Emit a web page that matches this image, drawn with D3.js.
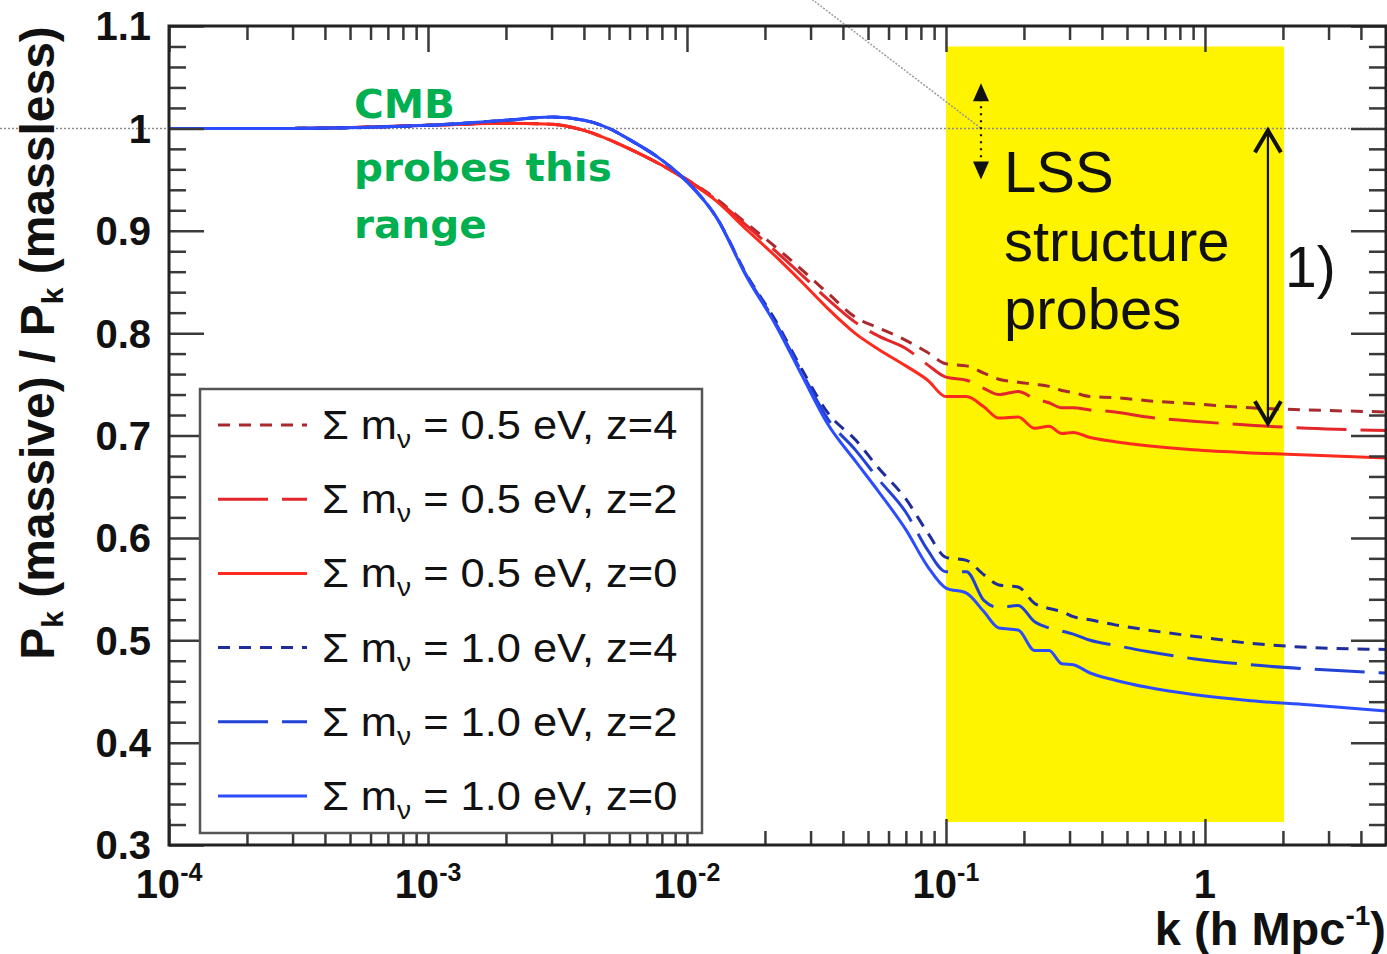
<!DOCTYPE html>
<html><head><meta charset="utf-8">
<script src="https://cdn.jsdelivr.net/npm/d3@7"></script>
<style>html,body{margin:0;padding:0;background:#fff;} svg{display:block}</style>
</head><body><svg id="c" width="1387" height="954"></svg>
<script>
// ---------- data ----------
const kValues = [1e-4, 3e-4, 1e-3, 2e-3, 3e-3, 4e-3, 5e-3, 6e-3, 8e-3, 0.01, 0.013, 0.017, 0.022, 0.028, 0.035, 0.045, 0.055, 0.07, 0.085, 0.1, 0.12, 0.14, 0.16, 0.19, 0.22, 0.25, 0.28, 0.31, 0.36, 0.45, 0.6, 0.9, 1.5, 2.5, 5];

const m05z4 = [1.000, 1.000, 1.003, 1.005, 1.004, 0.998, 0.989, 0.980, 0.964, 0.950, 0.931, 0.907, 0.884, 0.861, 0.839, 0.815, 0.805, 0.793, 0.781, 0.770, 0.768, 0.761, 0.755, 0.752, 0.750, 0.748, 0.744, 0.742, 0.738, 0.737, 0.734, 0.731, 0.727, 0.725, 0.723];
const m05z2 = [1.000, 1.000, 1.003, 1.005, 1.004, 0.998, 0.989, 0.980, 0.964, 0.950, 0.930, 0.905, 0.880, 0.856, 0.833, 0.810, 0.797, 0.785, 0.769, 0.757, 0.754, 0.746, 0.740, 0.743, 0.736, 0.732, 0.727, 0.727, 0.725, 0.723, 0.718, 0.714, 0.710, 0.707, 0.705];
const m05z0 = [1.000, 1.000, 1.003, 1.005, 1.004, 0.998, 0.989, 0.980, 0.964, 0.949, 0.929, 0.901, 0.875, 0.849, 0.824, 0.799, 0.784, 0.768, 0.754, 0.738, 0.738, 0.728, 0.717, 0.718, 0.707, 0.709, 0.702, 0.703, 0.698, 0.694, 0.690, 0.686, 0.683, 0.681, 0.678];
const m10z4 = [1.000, 1.000, 1.003, 1.008, 1.011, 1.008, 1.000, 0.989, 0.969, 0.948, 0.913, 0.857, 0.812, 0.763, 0.722, 0.695, 0.668, 0.638, 0.605, 0.581, 0.578, 0.564, 0.554, 0.552, 0.536, 0.531, 0.528, 0.523, 0.520, 0.515, 0.510, 0.504, 0.497, 0.493, 0.491];
const m10z2 = [1.000, 1.000, 1.003, 1.008, 1.011, 1.008, 1.000, 0.989, 0.969, 0.948, 0.913, 0.856, 0.810, 0.760, 0.716, 0.685, 0.657, 0.625, 0.588, 0.567, 0.567, 0.539, 0.532, 0.534, 0.518, 0.512, 0.509, 0.506, 0.500, 0.495, 0.489, 0.482, 0.476, 0.472, 0.468];
const m10z0 = [1.000, 1.000, 1.003, 1.008, 1.011, 1.008, 1.000, 0.989, 0.969, 0.948, 0.913, 0.855, 0.808, 0.757, 0.711, 0.674, 0.645, 0.608, 0.572, 0.551, 0.546, 0.528, 0.512, 0.510, 0.490, 0.490, 0.477, 0.476, 0.468, 0.461, 0.454, 0.447, 0.441, 0.437, 0.431];

const seriesMass = ["0.5", "0.5", "0.5", "1.0", "1.0", "1.0"];
const seriesZ = ["4", "2", "0", "4", "2", "0"];
const seriesValues = [m05z4, m05z2, m05z0, m10z4, m10z2, m10z0];

const xMajorTicks = [1e-4, 1e-3, 1e-2, 1e-1, 1];
const xTickExp = ["-4", "-3", "-2", "-1", ""];
const yMajorTicks = [0.3, 0.4, 0.5, 0.6, 0.7, 0.8, 0.9, 1.0, 1.1];
const yTickLabels = ["0.3", "0.4", "0.5", "0.6", "0.7", "0.8", "0.9", "1", "1.1"];

// annotation anchors (data units)
const lssBand = {k0: 0.1, k1: 2.02, v0: 0.3225, v1: 1.08};
const smallArrow = {k: 0.1365, v0: 1.044, v1: 0.950};
const bigArrow = {k: 1.75, v0: 1.0, v1: 0.71};
const leader = {k0: 0.0304, v0: 1.126, k1: 0.1365, v1: 1.0};

// ---------- styles ----------
const colors = ["#a82a2c", "#e3262a", "#ff2a1e", "#1f2c9c", "#2242d6", "#2b4dff"];
const dashes = ["12,9", "50,14", null, "12,9", "50,14", null];

const svg = d3.select("#c");
const X0 = 169, X1 = 1386, Y0 = 845, Y1 = 26;
const x = d3.scaleLog().domain([1e-4, 5]).range([X0, X1]);
const y = d3.scaleLinear().domain([0.3, 1.1]).range([Y0, Y1]);

svg.append("defs").append("clipPath").attr("id", "plot")
  .append("rect").attr("x", X0).attr("y", Y1).attr("width", X1 - X0).attr("height", Y0 - Y1);

// yellow band
svg.append("rect")
  .attr("x", x(lssBand.k0)).attr("y", y(lssBand.v1))
  .attr("width", x(lssBand.k1) - x(lssBand.k0)).attr("height", y(lssBand.v0) - y(lssBand.v1))
  .attr("fill", "#fff400");

// dotted reference line at 1
svg.append("line").attr("x1", 0).attr("x2", 1387).attr("y1", y(1)).attr("y2", y(1))
  .attr("stroke", "#8a8a8a").attr("stroke-width", 1.5).attr("stroke-dasharray", "2,2");

// leader diagonal
svg.append("line")
  .attr("x1", x(leader.k0)).attr("y1", y(leader.v0))
  .attr("x2", x(leader.k1)).attr("y2", y(leader.v1))
  .attr("stroke", "#9a9a9a").attr("stroke-width", 1.5).attr("stroke-dasharray", "2,1.5");

// curves
const line = d3.line().x(d => x(d[0])).y(d => y(d[1])).curve(d3.curveMonotoneX);
const gCurves = svg.append("g").attr("clip-path", "url(#plot)");
seriesValues.forEach((vals, i) => {
  gCurves.append("path")
    .attr("d", line(kValues.map((k, j) => [k, vals[j]])))
    .attr("fill", "none").attr("stroke", colors[i]).attr("stroke-width", 3)
    .attr("stroke-dasharray", dashes[i]);
});

// ---------- axes ----------
const xMinor = [];
for (let e = -4; e <= 0; e++) for (let m = 2; m <= 9; m++) { const v = m * Math.pow(10, e); if (v <= 5) xMinor.push(v); }
const yMinor = d3.range(0.32, 1.1, 0.02).filter(v => Math.abs(Math.round(v * 10) - v * 10) > 1e-6);

function styleAxis(g) {
  g.select(".domain").remove();
  g.selectAll(".tick line").attr("stroke", "#3a3a3a").attr("stroke-width", 2.5);
  g.selectAll(".tick text").remove();
}
svg.append("g").attr("transform", `translate(0,${Y0})`).call(d3.axisBottom(x).tickValues(xMajorTicks).tickSize(-26)).call(styleAxis);
svg.append("g").attr("transform", `translate(0,${Y0})`).call(d3.axisBottom(x).tickValues(xMinor).tickSize(-14)).call(styleAxis);
svg.append("g").attr("transform", `translate(0,${Y1})`).call(d3.axisTop(x).tickValues(xMajorTicks).tickSize(-26)).call(styleAxis);
svg.append("g").attr("transform", `translate(0,${Y1})`).call(d3.axisTop(x).tickValues(xMinor).tickSize(-14)).call(styleAxis);
svg.append("g").attr("transform", `translate(${X0},0)`).call(d3.axisLeft(y).tickValues(yMajorTicks).tickSize(-35)).call(styleAxis);
svg.append("g").attr("transform", `translate(${X0},0)`).call(d3.axisLeft(y).tickValues(yMinor).tickSize(-17)).call(styleAxis);
svg.append("g").attr("transform", `translate(${X1},0)`).call(d3.axisRight(y).tickValues(yMajorTicks).tickSize(-35)).call(styleAxis);
svg.append("g").attr("transform", `translate(${X1},0)`).call(d3.axisRight(y).tickValues(yMinor).tickSize(-17)).call(styleAxis);

// frame
svg.append("rect").attr("x", X0).attr("y", Y1).attr("width", X1 - X0).attr("height", Y0 - Y1)
  .attr("fill", "none").attr("stroke", "#222").attr("stroke-width", 3);

// tick labels
const font = "'Liberation Sans', Arial, Helvetica, sans-serif";
yMajorTicks.forEach((v, i) => {
  svg.append("text").attr("x", 151).attr("y", y(v)).attr("dy", "0.36em")
    .attr("text-anchor", "end").attr("font-family", font).attr("font-weight", "bold")
    .attr("font-size", 40).attr("fill", "#111").text(yTickLabels[i]);
});
xMajorTicks.forEach((v, i) => {
  const t = svg.append("text").attr("x", x(v)).attr("y", 898)
    .attr("text-anchor", "middle").attr("font-family", font).attr("font-weight", "bold")
    .attr("font-size", 40).attr("fill", "#111");
  if (xTickExp[i] === "") { t.text("1"); }
  else {
    t.append("tspan").text("10");
    t.append("tspan").attr("font-size", 25).attr("dy", -17).text(xTickExp[i]);
  }
});

// axis titles
const xt = svg.append("text").attr("x", 1386).attr("y", 945).attr("text-anchor", "end")
  .attr("font-family", font).attr("font-weight", "bold").attr("font-size", 47).attr("fill", "#111");
xt.append("tspan").text("k (h Mpc");
xt.append("tspan").attr("font-size", 28).attr("dy", -20).text("-1");
xt.append("tspan").attr("dy", 20).text(")");

const yt = svg.append("text").attr("transform", "translate(54,343) rotate(-90)")
  .attr("text-anchor", "middle").attr("font-family", font).attr("font-weight", "bold")
  .attr("font-size", 48).attr("fill", "#111");
yt.append("tspan").text("P");
yt.append("tspan").attr("font-size", 30).attr("dy", 9).text("k");
yt.append("tspan").attr("dy", -9).text(" (massive) / P");
yt.append("tspan").attr("font-size", 30).attr("dy", 9).text("k");
yt.append("tspan").attr("dy", -9).text(" (massless)");

// ---------- legend ----------
const lg = svg.append("g");
lg.append("rect").attr("x", 200).attr("y", 389).attr("width", 502).attr("height", 444)
  .attr("fill", "#fff").attr("stroke", "#555").attr("stroke-width", 2.5);
seriesValues.forEach((vals, i) => {
  const yy = 425 + i * 74.2;
  lg.append("line").attr("x1", 218).attr("x2", 307).attr("y1", yy).attr("y2", yy)
    .attr("stroke", colors[i]).attr("stroke-width", 3).attr("stroke-dasharray", dashes[i]);
  const t = lg.append("text").attr("transform", `translate(322,${yy + 14}) scale(1.085,1)`)
    .attr("font-family", font).attr("font-size", 40).attr("fill", "#111");
  t.append("tspan").text("Σ m");
  t.append("tspan").attr("font-size", 26).attr("dy", 9).text("ν");
  t.append("tspan").attr("dy", -9).text(` = ${seriesMass[i]} eV, z=${seriesZ[i]}`);
});

// ---------- annotations ----------
const green = "#00b050";
["CMB", "probes this", "range"].forEach((s, i) => {
  svg.append("text").attr("transform", `translate(354,${[118, 181, 238][i]}) scale(1.04,1)`)
    .attr("font-family", "'DejaVu Sans', sans-serif").attr("font-weight", "bold")
    .attr("font-size", 39).attr("fill", green).text(s);
});
["LSS", "structure", "probes"].forEach((s, i) => {
  svg.append("text").attr("x", 1004).attr("y", [192, 261, 329][i])
    .attr("font-family", font).attr("font-size", 58).attr("fill", "#111").text(s);
});
svg.append("text").attr("x", 1285).attr("y", 287)
  .attr("font-family", font).attr("font-size", 57).attr("fill", "#111").text("1)");

// small dotted double arrow
const sax = x(smallArrow.k), sy0 = y(smallArrow.v0), sy1 = y(smallArrow.v1);
svg.append("line").attr("x1", sax).attr("x2", sax).attr("y1", sy0 + 16).attr("y2", sy1 - 16)
  .attr("stroke", "#111").attr("stroke-width", 2.2).attr("stroke-dasharray", "2,5");
svg.append("path").attr("d", `M${sax},${sy0} L${sax - 8},${sy0 + 18} L${sax + 8},${sy0 + 18} Z`).attr("fill", "#111");
svg.append("path").attr("d", `M${sax},${sy1} L${sax - 8},${sy1 - 18} L${sax + 8},${sy1 - 18} Z`).attr("fill", "#111");

// big double arrow
const bax = x(bigArrow.k), by0 = y(bigArrow.v0), by1 = y(bigArrow.v1);
svg.append("line").attr("x1", bax).attr("x2", bax).attr("y1", by0 + 2).attr("y2", by1 - 2)
  .attr("stroke", "#111").attr("stroke-width", 2.2);
svg.append("path").attr("d", `M${bax - 13},${by0 + 24} L${bax},${by0 + 2} L${bax + 13},${by0 + 24}`)
  .attr("fill", "none").attr("stroke", "#111").attr("stroke-width", 4).attr("stroke-linejoin", "miter");
svg.append("path").attr("d", `M${bax - 13},${by1 - 24} L${bax},${by1 - 2} L${bax + 13},${by1 - 24}`)
  .attr("fill", "none").attr("stroke", "#111").attr("stroke-width", 4).attr("stroke-linejoin", "miter");
</script></body></html>
